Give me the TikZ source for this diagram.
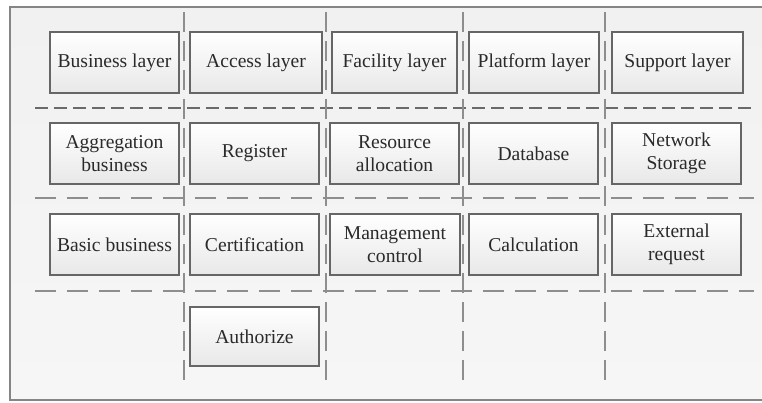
\documentclass[tikz,border=0pt]{standalone}
\usepackage{fontspec}
\setmainfont{Liberation Serif}
\usetikzlibrary{shadows}
\definecolor{framegray}{HTML}{858585}
\definecolor{boxgray}{HTML}{666666}
\definecolor{dashgray}{HTML}{8E8E8E}
\definecolor{dashdark}{HTML}{6A6A6A}
\definecolor{txt}{HTML}{2A2A2A}
\definecolor{bgtop}{HTML}{F1F1F1}
\definecolor{bgbot}{HTML}{F6F6F6}
\tikzset{
  layerbox/.style={draw=boxgray, line width=1.1pt, top color=white, bottom color=black!9,
    minimum height=61pt, inner sep=0pt, align=center, text=txt,
    font=\fontsize{19.6}{23.5}\selectfont,
    drop shadow={shadow xshift=1.2pt, shadow yshift=-1.2pt, opacity=0.18}},
  vdiv/.style={draw=dashgray, line width=1.5pt, dash pattern=on 20pt off 9pt},
  hdiv/.style={draw=dashgray, line width=1.8pt, dash pattern=on 21pt off 11pt},
  hdivtop/.style={draw=dashdark, line width=1.8pt, dash pattern=on 13pt off 6pt},
}
\begin{document}
\begin{tikzpicture}[x=1pt,y=-1pt]
\useasboundingbox (0,0) rectangle (762,403);
\begin{scope}
\clip (0,0) rectangle (762,403);
\draw[framegray, line width=1.5pt, top color=bgtop, bottom color=bgbot] (10,7) rectangle (780,400);
\end{scope}
% dividers
\draw[hdivtop] (35,108) -- (754,108);
\draw[hdiv] (35,198) -- (754,198);
\draw[hdiv] (35,291) -- (754,291);
\foreach \xx in {184,326,463,605} \draw[vdiv] (\xx,12) -- (\xx,384);
% row 1
\node[layerbox, minimum width=129pt] (b11) at (114.5,62.5) {Business layer};
\node[layerbox, minimum width=132pt] (b12) at (256,62.5) {Access layer};
\node[layerbox, minimum width=125pt] (b13) at (394.5,62.5) {Facility layer};
\node[layerbox, minimum width=130pt] (b14) at (534,62.5) {Platform layer};
\node[layerbox, minimum width=131pt] (b15) at (677.5,62.5) {Support layer};
% row 2
\node[layerbox, minimum width=129pt] (b21) at (114.5,153.5) {Aggregation\\business};
\node[layerbox, minimum width=129pt] (b22) at (254.5,153.5) {Register};
\node[layerbox, minimum width=129pt] (b23) at (394.5,153.5) {Resource\\allocation};
\node[layerbox, minimum width=129pt] (b24) at (533.5,153.5) {Database};
\node[layerbox, minimum width=129pt] (b25) at (676.5,153.5) {Network\\Storage};
% row 3
\node[layerbox, minimum width=129pt] (b31) at (114.5,244.5) {Basic business};
\node[layerbox, minimum width=129pt] (b32) at (254.5,244.5) {Certification};
\node[layerbox, minimum width=130pt] (b33) at (395,244.5) {Management\\control};
\node[layerbox, minimum width=129pt] (b34) at (533.5,244.5) {Calculation};
\node[layerbox, minimum width=129pt] (b35) at (676.5,244.5) {External\\request};
% row 4
\node[layerbox, minimum width=129pt, minimum height=59pt] (b42) at (254.5,336.5) {Authorize};
\end{tikzpicture}
\end{document}
